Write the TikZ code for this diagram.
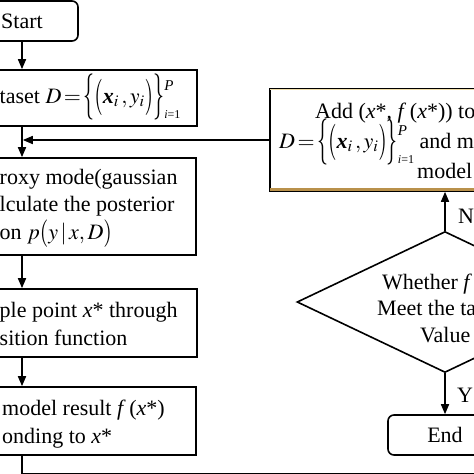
\documentclass[tikz,border=0pt]{standalone}
\usepackage{amsmath}
\usepackage{mathptmx}
\usepackage{graphicx}
\usepackage{fontspec}
\setmainfont{Liberation Serif}
\usetikzlibrary{shapes.geometric,arrows.meta}

\definecolor{boxgold}{RGB}{185,145,75}
\definecolor{boxpale}{RGB}{240,222,170}

\tikzset{
    stepbox/.style={draw, line width=1.6pt, inner sep=0pt},
    endbox/.style={stepbox, rounded corners=6pt},
    choicebox/.style={draw, diamond, line width=1.6pt, inner sep=0pt},
    flowline/.style={line width=1.6pt},
    flowarrow/.style={flowline, -{Triangle[length=10pt,width=8pt]}},
    linetext/.style={inner sep=0pt, anchor=base west},
    blocktext/.style={inner sep=0pt, anchor=west, align=left}
}

\newcommand{\tallopen}[2]{\mathopen{\vcenter{\hbox{\scalebox{1}[#1]{$#2$}}}}}
\newcommand{\tallclose}[2]{\mathclose{\vcenter{\hbox{\scalebox{1}[#1]{$#2$}}}}}
\newcommand{\setlimits}{\mathord{\rlap{\raisebox{13pt}{\fontsize{15}{15}\selectfont\textit{P}}}\raisebox{-15pt}{\fontsize{12}{12}\selectfont\textit{i}=1}}}
\newcommand{\dataset}{$D\!=\!\tallopen{2.1}{\{}\tallopen{1.65}{(}\textbf{\textit{x}}_i\,,y_i\tallclose{1.65}{)}\tallclose{2.1}{\}}\setlimits$}

\begin{document}
\begin{tikzpicture}[x=1pt, y=-1pt, font=\fontsize{22}{27.5}\selectfont]
        \useasboundingbox (0,0) rectangle (474,474);
        \clip (0,0) rectangle (474,474);

        \node (start) at (22,21) [endbox, minimum width=112pt, minimum height=40pt] {Start};
        \node (data) at (22,98) [stepbox, minimum width=350pt, minimum height=56pt] {};
        \node (proxy) at (22,206.5) [stepbox, minimum width=348pt, minimum height=97pt] {};
        \node (sample) at (22,323) [stepbox, minimum width=350pt, minimum height=68pt] {};
        \node (result) at (22,421) [stepbox, minimum width=348pt, minimum height=68pt] {};

        \node (add) at (445,140) [stepbox, minimum width=350pt, minimum height=102pt] {};
        \draw [boxgold, line width=3pt] ([xshift=0.8pt, yshift=2.3pt]add.south west) -- ([yshift=2.3pt]add.south east);
        \draw [boxpale, line width=1.2pt] ([xshift=0.8pt, yshift=-1.4pt]add.north west) -- ([yshift=-1.4pt]add.north east);
        \node (ask) at (445,302) [choicebox, minimum width=296pt, minimum height=141pt] {};
        \node (end) at (445,435) [endbox, minimum width=114pt, minimum height=40pt] {End};

        \node (datatext) at (-0.5,103) [linetext] {taset \dataset};
        \node (proxytext) at (-0.5,208) [blocktext] {roxy mode(gaussian\\lculate the posterior\\on $p\tallopen{1.25}{(}y\,|\,x,D\tallclose{1.25}{)}$};
        \node (sampletext) at (-0.5,324) [blocktext] {ple point \textit{x}* through\\sition function};
        \node (resulttext) at (2,424) [blocktext] {model result \textit{f}\,(\textit{x}*)\\onding to \textit{x}*};

        \node (addone) at (315,118) [linetext] {Add (\textit{x}*, \textit{f}\,(\textit{x}*)) to};
        \node (addtwo) at (279,148) [linetext] {\dataset{} and mo};
        \node (addthree) at (417,178) [linetext] {model};
        \node (askone) at (382,289) [linetext] {Whether \textit{f}};
        \node (asktwo) at (377,315) [linetext] {Meet the ta};
        \node (askthree) at (420,342) [linetext] {Value};
        \node (nolabel) at (458,223) [linetext] {N};
        \node (yeslabel) at (457,402) [linetext] {Y};

        \coordinate (join) at (22,140);

        \draw [flowarrow] (start.south) -- (data.north);
        \draw [flowarrow] (data.south) -- (proxy.north);
        \draw [flowarrow, shorten >=0.8pt] (add.west) -- (join);
        \draw [flowarrow] (proxy.south) -- (sample.north);
        \draw [flowarrow] (sample.south) -- (result.north);
        \draw [flowarrow] (result.south) -- ++(0,17.5) -| (ask.east);
        \draw [flowarrow] (ask.north) -- (add.south);
        \draw [flowarrow] (ask.south) -- (end.north);
\end{tikzpicture}
\end{document}
